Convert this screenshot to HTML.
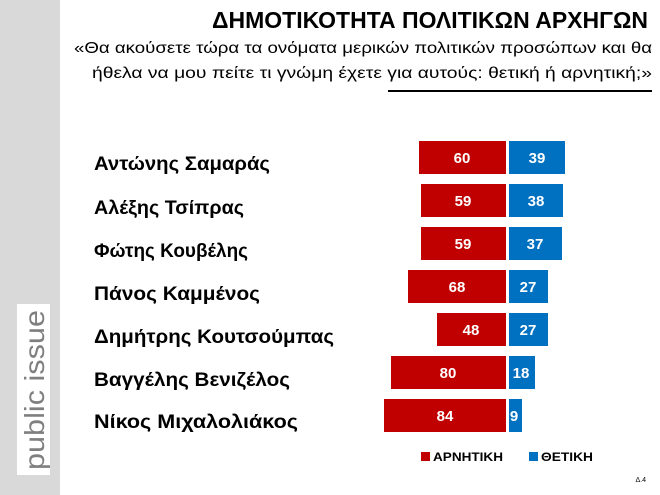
<!DOCTYPE html>
<html><head><meta charset="utf-8"><style>
html,body{margin:0;padding:0;background:#fff;}
svg{display:block;font-family:"Liberation Sans",sans-serif;}
</style></head><body>
<svg width="660" height="495" viewBox="0 0 660 495" xmlns="http://www.w3.org/2000/svg">
<rect x="0" y="0" width="60" height="495" fill="#d9d9d9"/>
<rect x="17" y="304" width="33" height="171" fill="#fff"/>
<text transform="translate(44,470) rotate(-90)" font-size="28" fill="#7f7f7f" textLength="160" lengthAdjust="spacingAndGlyphs">public issue</text>

<text x="648" y="28" text-anchor="end" font-size="23" font-weight="bold" fill="#000" textLength="436" lengthAdjust="spacingAndGlyphs">ΔΗΜΟΤΙΚΟΤΗΤΑ ΠΟΛΙΤΙΚΩΝ ΑΡΧΗΓΩΝ</text>
<text x="652" y="53" text-anchor="end" font-size="16" fill="#000" textLength="578" lengthAdjust="spacingAndGlyphs">«Θα ακούσετε τώρα τα ονόματα μερικών πολιτικών προσώπων και θα</text>
<text x="652" y="78" text-anchor="end" font-size="16" fill="#000" textLength="560" lengthAdjust="spacingAndGlyphs">ήθελα να μου πείτε τι γνώμη έχετε για αυτούς: θετική ή αρνητική;»</text>
<rect x="388" y="90" width="264" height="2" fill="#000"/>

<g font-size="19" fill="#000" font-weight="bold">
<text x="94" y="170" textLength="176" lengthAdjust="spacingAndGlyphs">Αντώνης Σαμαράς</text>
<text x="94" y="214" textLength="150" lengthAdjust="spacingAndGlyphs">Αλέξης Τσίπρας</text>
<text x="94" y="257" textLength="154" lengthAdjust="spacingAndGlyphs">Φώτης Κουβέλης</text>
<text x="94" y="300" textLength="166" lengthAdjust="spacingAndGlyphs">Πάνος Καμμένος</text>
<text x="94" y="343" textLength="240" lengthAdjust="spacingAndGlyphs">Δημήτρης Κουτσούμπας</text>
<text x="94" y="386" textLength="196" lengthAdjust="spacingAndGlyphs">Βαγγέλης Βενιζέλος</text>
<text x="94" y="428" textLength="204" lengthAdjust="spacingAndGlyphs">Νίκος Μιχαλολιάκος</text>
</g>

<g font-size="15" font-weight="bold" fill="#fff" text-anchor="middle">
<rect x="419" y="141" width="87" height="33" fill="#c00000"/><text x="462" y="163">60</text>
<rect x="509" y="141" width="56" height="33" fill="#0070c0"/><text x="537" y="163">39</text>
<rect x="421" y="184" width="85" height="33" fill="#c00000"/><text x="463" y="206">59</text>
<rect x="509" y="184" width="54" height="33" fill="#0070c0"/><text x="536" y="206">38</text>
<rect x="421" y="227" width="85" height="33" fill="#c00000"/><text x="463" y="249">59</text>
<rect x="509" y="227" width="53" height="33" fill="#0070c0"/><text x="535" y="249">37</text>
<rect x="408" y="270" width="98" height="33" fill="#c00000"/><text x="457" y="292">68</text>
<rect x="509" y="270" width="39" height="33" fill="#0070c0"/><text x="528" y="292">27</text>
<rect x="437" y="313" width="69" height="33" fill="#c00000"/><text x="471" y="335">48</text>
<rect x="509" y="313" width="39" height="33" fill="#0070c0"/><text x="528" y="335">27</text>
<rect x="391" y="356" width="115" height="33" fill="#c00000"/><text x="448" y="378">80</text>
<rect x="509" y="356" width="26" height="33" fill="#0070c0"/><text x="521" y="378">18</text>
<rect x="384" y="399" width="122" height="33" fill="#c00000"/><text x="445" y="421">84</text>
<rect x="509" y="399" width="13" height="33" fill="#0070c0"/><text x="514" y="421">9</text>
</g>

<rect x="421" y="452" width="9" height="9" fill="#c00000"/>
<text x="433" y="461" font-size="12" font-weight="bold" fill="#000" textLength="70" lengthAdjust="spacingAndGlyphs">ΑΡΝΗΤΙΚΗ</text>
<rect x="529" y="452" width="9" height="9" fill="#0070c0"/>
<text x="541" y="461" font-size="12" font-weight="bold" fill="#000" textLength="52" lengthAdjust="spacingAndGlyphs">ΘΕΤΙΚΗ</text>
<text x="646" y="482" text-anchor="end" font-size="7" fill="#000">Δ.4</text>
</svg>
</body></html>
